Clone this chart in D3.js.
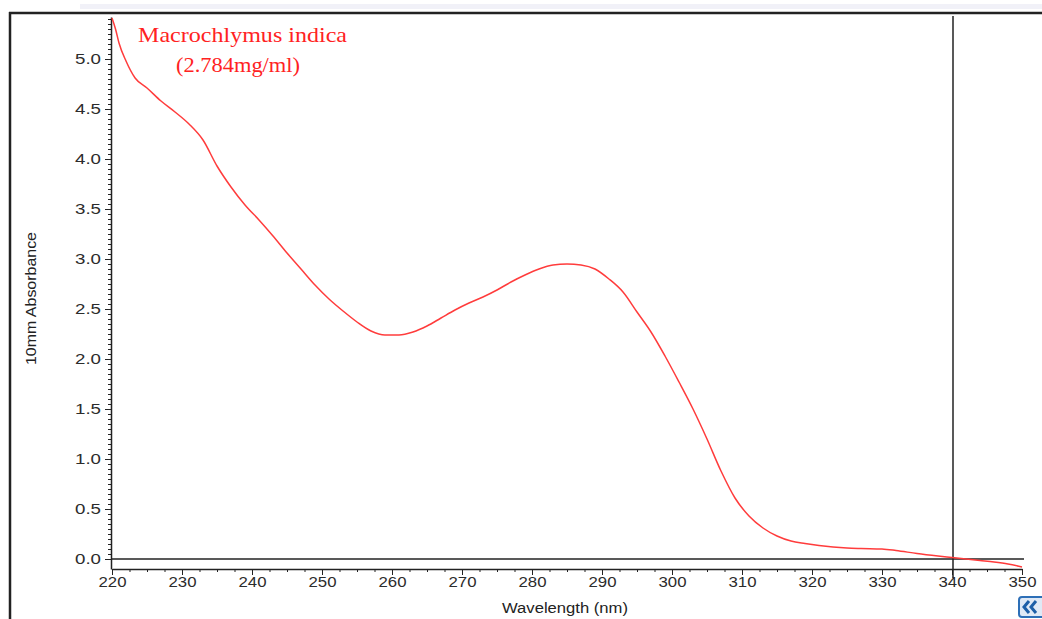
<!DOCTYPE html>
<html>
<head>
<meta charset="utf-8">
<script src="https://cdn.jsdelivr.net/npm/d3@7"></script>
<style>
  body { margin: 0; background: #fff; }
  .tick text { font-family: "Liberation Sans", Arial, sans-serif; font-size: 14px; fill: #2c2c2c; }
  .axis path, .axis line { stroke: #222; }
</style>
</head>
<body>
<div id="chart"></div>
<script>
// spectrum
const wavelengths = [220, 220.5, 221, 222, 223.3, 225, 227, 229, 231, 233, 235, 237, 239, 241, 243, 245, 247, 249,
  251, 253, 255, 257, 259, 261, 263, 265, 267, 269, 271, 273, 275, 277, 279, 281, 283, 285, 287, 289,
  291, 293, 295, 297, 299, 301, 303, 305, 307, 309, 311, 313, 315, 317, 319, 321, 323, 325, 327, 330,
  332, 335, 338, 340, 342, 344, 346, 348, 350];
const absorbance = [5.41, 5.30, 5.16, 4.98, 4.81, 4.71, 4.58, 4.47, 4.35, 4.19, 3.93, 3.72, 3.54, 3.39, 3.23, 3.06, 2.90, 2.74,
  2.60, 2.48, 2.37, 2.28, 2.24, 2.24, 2.27, 2.33, 2.41, 2.49, 2.56, 2.62, 2.69, 2.77, 2.84, 2.90, 2.94, 2.95, 2.94, 2.90,
  2.80, 2.67, 2.47, 2.27, 2.03, 1.77, 1.50, 1.20, 0.88, 0.61, 0.43, 0.31, 0.23, 0.18, 0.155, 0.135, 0.12, 0.11, 0.105, 0.10,
  0.085, 0.055, 0.03, 0.015, 0.0, -0.015, -0.03, -0.05, -0.08];
const xTicks = [220, 230, 240, 250, 260, 270, 280, 290, 300, 310, 320, 330, 340, 350];
const yTicks = [0, 0.5, 1, 1.5, 2, 2.5, 3, 3.5, 4, 4.5, 5];
const cursorAt = 340;
const titleLines = ["Macrochlymus indica", "(2.784mg/ml)"];

const width = 1042, height = 619;
const svg = d3.select("#chart").append("svg")
  .attr("width", width).attr("height", height);

const x = d3.scaleLinear().domain([220, 350]).range([112, 1022]);
const y = d3.scaleLinear().domain([-0.1, 5.42]).range([569, 17]);

// window frame
svg.append("rect").attr("x", 80).attr("y", 4).attr("width", width - 80).attr("height", 5).attr("fill", "#f1f1f8");
svg.append("line").attr("x1", 9).attr("x2", width).attr("y1", 13).attr("y2", 13)
  .attr("stroke", "#222").attr("stroke-width", 2.5);
svg.append("line").attr("x1", 10).attr("x2", 10).attr("y1", 12).attr("y2", height)
  .attr("stroke", "#222").attr("stroke-width", 2.5);

// minor ticks
const yMinor = d3.range(0, 5.42, 0.05);
svg.append("g").attr("class", "axis").attr("transform", `translate(${x(220) - 1},0)`)
  .call(d3.axisLeft(y).tickValues(yMinor).tickSize(3).tickFormat(""))
  .call(g => g.select(".domain").remove());
const xMinor = d3.range(220, 350.1, 2.5);
svg.append("g").attr("class", "axis").attr("transform", `translate(0,${y(-0.1)})`)
  .call(d3.axisBottom(x).tickValues(xMinor).tickSize(3).tickFormat(""))
  .call(g => g.select(".domain").remove());

// major axes (labels look stretched sideways in the original, so widen them)
svg.append("g").attr("class", "axis").attr("transform", `translate(${x(220) - 1},0)`)
  .call(d3.axisLeft(y).tickValues(yTicks).tickSize(6).tickSizeOuter(0).tickFormat(d3.format(".1f")))
  .call(g => g.selectAll(".tick text").attr("x", -10)
    .attr("textLength", 26).attr("lengthAdjust", "spacingAndGlyphs"))
  .call(g => g.select(".domain").attr("stroke-width", 1.5));
svg.append("g").attr("class", "axis").attr("transform", `translate(0,${y(-0.1)})`)
  .call(d3.axisBottom(x).tickValues(xTicks).tickSize(6).tickSizeOuter(0))
  .call(g => g.selectAll(".tick text").attr("y", 8)
    .attr("textLength", 28).attr("lengthAdjust", "spacingAndGlyphs"))
  .call(g => g.select(".domain").attr("stroke-width", 1.5));

// zero line and cursor
svg.append("line").attr("x1", x(220)).attr("x2", x(350) + 2).attr("y1", y(0)).attr("y2", y(0))
  .attr("stroke", "#222").attr("stroke-width", 1.5);
svg.append("line").attr("x1", x(cursorAt) + 1).attr("x2", x(cursorAt) + 1).attr("y1", 16).attr("y2", 578)
  .attr("stroke", "#222").attr("stroke-width", 1.5);

// spectrum
const pts = wavelengths.map((w, i) => [w, absorbance[i]]);
svg.append("path").datum(pts)
  .attr("d", d3.line().x(d => x(d[0])).y(d => y(d[1])).curve(d3.curveMonotoneX))
  .attr("fill", "none").attr("stroke", "#ff3c3c").attr("stroke-width", 1.5);

// title
svg.append("text").attr("x", 138).attr("y", 42).text(titleLines[0])
  .attr("textLength", 209).attr("lengthAdjust", "spacingAndGlyphs")
  .style("font-family", "'Liberation Serif', 'Times New Roman', serif").style("font-size", "21px").style("fill", "#f22");
svg.append("text").attr("x", 176).attr("y", 72).text(titleLines[1])
  .attr("textLength", 124).attr("lengthAdjust", "spacingAndGlyphs")
  .style("font-family", "'Liberation Serif', 'Times New Roman', serif").style("font-size", "21px").style("fill", "#f22");

// axis titles
svg.append("text").attr("transform", "translate(36,365) rotate(-90)").text("10mm Absorbance")
  .attr("textLength", 133).attr("lengthAdjust", "spacingAndGlyphs")
  .style("font-family", "'Liberation Sans', Arial, sans-serif").style("font-size", "14px").style("fill", "#222");
svg.append("text").attr("x", 502).attr("y", 613).text("Wavelength (nm)")
  .attr("textLength", 126).attr("lengthAdjust", "spacingAndGlyphs")
  .style("font-family", "'Liberation Sans', Arial, sans-serif").style("font-size", "14px").style("fill", "#222");

// scroll button in the corner
const btn = svg.append("g").attr("transform", "translate(1019,597)");
btn.append("rect").attr("width", 26).attr("height", 20).attr("rx", 3)
  .attr("fill", "#dfe9f6").attr("stroke", "#2d6fb7").attr("stroke-width", 2);
btn.append("path").attr("d", "M10,4 L5,10 L10,16 M17,4 L12,10 L17,16")
  .attr("fill", "none").attr("stroke", "#1d5fa8").attr("stroke-width", 3);
</script>
</body>
</html>
